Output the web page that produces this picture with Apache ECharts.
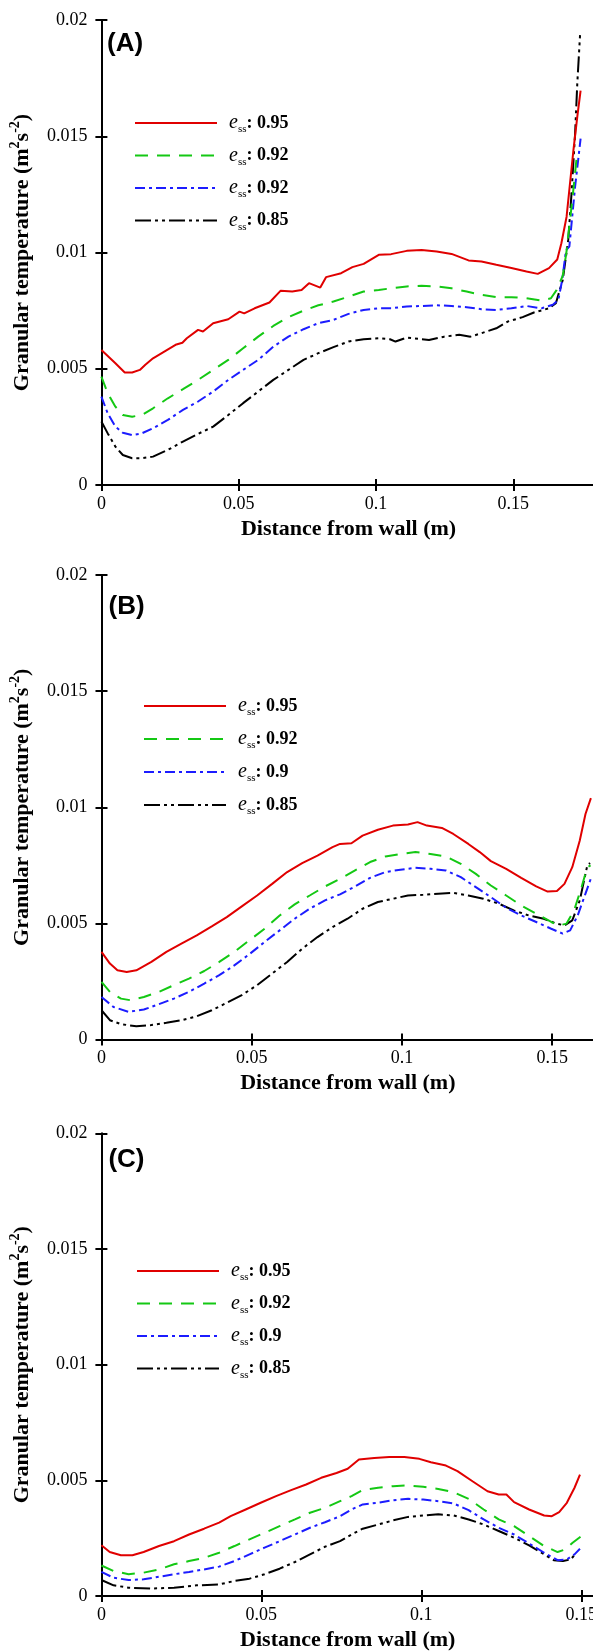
<!DOCTYPE html>
<html>
<head>
<meta charset="utf-8">
<script src="https://cdn.jsdelivr.net/npm/echarts@6/dist/echarts.min.js"></script>
<style>
html,body{margin:0;padding:0;background:#fff;overflow:hidden;}
#main{width:600px;height:1652px;}
</style>
</head>
<body>
<div id="main"></div>
<script>
// 数据：x = 距壁面距离 (m), y = 颗粒温度 (m2/s2)
var panelLabels = ['(A)', '(B)', '(C)'];
var xMax = [0.18, 0.164, 0.154];
var xStep = 0.05;
var yMax = 0.02, yStep = 0.005;
var legendA = ['0.95', '0.92', '0.92', '0.85'];
var legendB = ['0.95', '0.92', '0.9', '0.85'];
var legendC = ['0.95', '0.92', '0.9', '0.85'];

var aRed = [[0,0.00581],[0.0051,0.00524],[0.0085,0.00484],[0.0112,0.00484],[0.014,0.00495],[0.016,0.00517],[0.0188,0.00545],[0.0229,0.00574],[0.027,0.00603],[0.0295,0.00612],[0.0311,0.00631],[0.0352,0.00667],[0.037,0.0066],[0.0407,0.00696],[0.0462,0.00713],[0.0503,0.00746],[0.052,0.00738],[0.0558,0.0076],[0.0612,0.00785],[0.0653,0.00836],[0.0695,0.00832],[0.0729,0.00839],[0.0756,0.00868],[0.0797,0.00849],[0.0818,0.00894],[0.0873,0.00911],[0.0914,0.00937],[0.0955,0.00951],[0.101,0.0099],[0.1055,0.00993],[0.1112,0.01007],[0.1166,0.01011],[0.1221,0.01004],[0.1275,0.00994],[0.1337,0.00966],[0.1384,0.00961],[0.1438,0.00947],[0.1493,0.00933],[0.1548,0.00918],[0.1589,0.00908],[0.163,0.00933],[0.166,0.0097],[0.1675,0.0104],[0.1694,0.01154],[0.1719,0.01441],[0.1733,0.01584],[0.1745,0.01696]];
var aGreen = [[0,0.00466],[0.0023,0.00395],[0.0051,0.00337],[0.0078,0.00301],[0.0112,0.00294],[0.0147,0.00301],[0.0188,0.0033],[0.0242,0.00373],[0.0297,0.00412],[0.0352,0.00452],[0.0407,0.00495],[0.0462,0.00538],[0.0516,0.00588],[0.0571,0.00638],[0.0626,0.00684],[0.0681,0.00722],[0.0736,0.0075],[0.079,0.00773],[0.0845,0.00789],[0.09,0.0081],[0.0955,0.00832],[0.101,0.00839],[0.1055,0.00846],[0.1112,0.00854],[0.1166,0.00857],[0.1221,0.00854],[0.1275,0.00846],[0.133,0.00832],[0.1384,0.00818],[0.1438,0.00808],[0.1493,0.00808],[0.1548,0.00803],[0.1603,0.00793],[0.1637,0.00803],[0.1658,0.00839],[0.168,0.009],[0.1693,0.00997],[0.1716,0.0124],[0.1731,0.01412],[0.174,0.0143]];
var aBlue = [[0,0.0038],[0.0023,0.00308],[0.0051,0.00251],[0.0078,0.00225],[0.0112,0.00215],[0.0147,0.00222],[0.0188,0.00244],[0.0242,0.0028],[0.0297,0.00323],[0.0352,0.00359],[0.0407,0.00402],[0.0462,0.00452],[0.0516,0.00495],[0.0571,0.00538],[0.0626,0.00595],[0.0681,0.00638],[0.0736,0.0067],[0.079,0.00696],[0.0845,0.0071],[0.09,0.00736],[0.0955,0.00753],[0.101,0.0076],[0.1055,0.0076],[0.1112,0.00768],[0.1166,0.0077],[0.1221,0.00773],[0.1275,0.0077],[0.133,0.00765],[0.1384,0.00756],[0.1438,0.00753],[0.1493,0.0076],[0.1548,0.0077],[0.1603,0.0076],[0.1644,0.00775],[0.1664,0.00796],[0.1678,0.00882],[0.1692,0.0101],[0.1704,0.01025],[0.1725,0.01283],[0.1745,0.0149]];
var aBlack = [[0,0.00273],[0.0023,0.00222],[0.0051,0.00165],[0.0078,0.00129],[0.0112,0.00115],[0.0147,0.00115],[0.0188,0.00122],[0.0242,0.00151],[0.0297,0.00187],[0.0352,0.0022],[0.0407,0.00251],[0.0462,0.00301],[0.0516,0.00352],[0.0571,0.00402],[0.0626,0.00452],[0.0681,0.00495],[0.0736,0.00538],[0.079,0.00567],[0.0845,0.00593],[0.09,0.00617],[0.0955,0.00627],[0.101,0.00631],[0.1051,0.00627],[0.1071,0.00617],[0.1112,0.00634],[0.1166,0.00627],[0.1193,0.00624],[0.1248,0.00638],[0.1303,0.00646],[0.1344,0.00638],[0.1384,0.00653],[0.1438,0.00674],[0.148,0.00703],[0.1534,0.00722],[0.1575,0.00742],[0.163,0.0076],[0.1655,0.00782],[0.168,0.00882],[0.17,0.01054],[0.1712,0.01254],[0.1725,0.01512],[0.1733,0.01728],[0.1743,0.01935]];

var bRed = [[0,0.00377],[0.0028,0.00327],[0.0053,0.00298],[0.0084,0.00291],[0.0116,0.00298],[0.0166,0.00334],[0.0216,0.00377],[0.0266,0.00413],[0.0317,0.00448],[0.0367,0.00487],[0.0417,0.00527],[0.0467,0.00573],[0.0518,0.0062],[0.0568,0.0067],[0.0618,0.00721],[0.0668,0.00759],[0.0719,0.00792],[0.0769,0.00828],[0.0794,0.00842],[0.0832,0.00845],[0.0869,0.00878],[0.092,0.00903],[0.097,0.00921],[0.102,0.00926],[0.1052,0.00936],[0.1083,0.00921],[0.1133,0.00911],[0.1171,0.00885],[0.1221,0.00842],[0.1259,0.00807],[0.1296,0.00768],[0.1347,0.00735],[0.1397,0.00696],[0.1447,0.00659],[0.1485,0.00637],[0.1516,0.00639],[0.1541,0.0067],[0.1567,0.00742],[0.1592,0.00857],[0.1611,0.00971],[0.1629,0.01039]];
var bGreen = [[0,0.00248],[0.0028,0.00205],[0.0065,0.00176],[0.0097,0.00169],[0.0141,0.00183],[0.0191,0.00205],[0.0241,0.00234],[0.0291,0.00262],[0.0342,0.00295],[0.0392,0.00334],[0.0442,0.00377],[0.0492,0.00427],[0.0543,0.00477],[0.0593,0.00534],[0.0643,0.00582],[0.0693,0.0062],[0.0744,0.00659],[0.0794,0.00692],[0.0844,0.00728],[0.0894,0.00764],[0.0945,0.00788],[0.0995,0.00799],[0.1045,0.00807],[0.1095,0.00799],[0.1146,0.00788],[0.1196,0.00756],[0.1246,0.00713],[0.1296,0.00663],[0.1347,0.0062],[0.1397,0.00577],[0.1447,0.00542],[0.1497,0.00506],[0.1523,0.00491],[0.1548,0.00499],[0.1573,0.00556],[0.1598,0.00656],[0.1617,0.00742],[0.1628,0.0075]];
var bBlue = [[0,0.00183],[0.004,0.0014],[0.009,0.00119],[0.0141,0.00129],[0.0191,0.00152],[0.0241,0.00176],[0.0291,0.00205],[0.0342,0.00241],[0.0392,0.00277],[0.0442,0.00319],[0.0492,0.00367],[0.0543,0.0042],[0.0593,0.0047],[0.0643,0.0052],[0.0693,0.00563],[0.0744,0.00599],[0.0794,0.00625],[0.0844,0.00659],[0.0894,0.00696],[0.0945,0.00721],[0.0995,0.00731],[0.1045,0.00739],[0.1095,0.00735],[0.1146,0.00728],[0.1196,0.00699],[0.1246,0.00656],[0.1296,0.00613],[0.1347,0.00567],[0.1397,0.00534],[0.1447,0.00506],[0.1497,0.00477],[0.1535,0.00456],[0.156,0.0047],[0.1585,0.00534],[0.1611,0.00628],[0.1628,0.0069]];
var bBlack = [[0,0.00126],[0.0028,0.00083],[0.0065,0.00066],[0.0116,0.00057],[0.0166,0.00062],[0.0216,0.00072],[0.0266,0.00083],[0.0317,0.001],[0.0367,0.00126],[0.0417,0.00158],[0.0467,0.00191],[0.0518,0.00234],[0.0568,0.00284],[0.0618,0.00334],[0.0668,0.00391],[0.0719,0.00441],[0.0769,0.00484],[0.0819,0.0052],[0.0869,0.00563],[0.092,0.00592],[0.097,0.00606],[0.102,0.0062],[0.107,0.00623],[0.1121,0.00628],[0.1171,0.00631],[0.1221,0.0062],[0.1271,0.00606],[0.1322,0.00585],[0.1372,0.00556],[0.1422,0.00534],[0.1472,0.0052],[0.151,0.00501],[0.1541,0.00491],[0.1567,0.00513],[0.1592,0.00599],[0.1617,0.00749],[0.1626,0.0076]];

var cRed = [[0,0.00219],[0.0026,0.0019],[0.0061,0.00176],[0.0097,0.00176],[0.0132,0.0019],[0.018,0.00216],[0.0227,0.00237],[0.0274,0.00266],[0.0321,0.00291],[0.0368,0.00317],[0.0404,0.00345],[0.0451,0.00374],[0.0498,0.00403],[0.0546,0.00432],[0.0593,0.00458],[0.064,0.00482],[0.0687,0.00511],[0.0735,0.00532],[0.077,0.0055],[0.0805,0.0059],[0.0853,0.00597],[0.09,0.00601],[0.0947,0.00601],[0.0994,0.00593],[0.103,0.00578],[0.1077,0.00564],[0.1113,0.0054],[0.116,0.00496],[0.1207,0.00453],[0.1242,0.00439],[0.1266,0.00439],[0.129,0.00406],[0.1337,0.00374],[0.1384,0.00348],[0.1408,0.00345],[0.1431,0.00363],[0.1455,0.00403],[0.1479,0.00468],[0.1496,0.00525]];
var cGreen = [[0,0.00132],[0.0038,0.00108],[0.0085,0.00094],[0.0132,0.00101],[0.018,0.00115],[0.0227,0.00137],[0.0274,0.00151],[0.0321,0.00165],[0.0368,0.00187],[0.0416,0.00216],[0.0463,0.00245],[0.051,0.00273],[0.0557,0.00302],[0.0605,0.00331],[0.0652,0.0036],[0.0699,0.00381],[0.0746,0.0041],[0.0782,0.00432],[0.0817,0.00458],[0.0865,0.00468],[0.0912,0.00475],[0.0959,0.00478],[0.1006,0.00472],[0.1053,0.00463],[0.1101,0.00449],[0.1148,0.0042],[0.1195,0.00374],[0.1242,0.00331],[0.129,0.00302],[0.1337,0.00259],[0.1384,0.00216],[0.1426,0.0019],[0.1449,0.00201],[0.1473,0.0023],[0.15,0.00259]];
var cBlue = [[0,0.00104],[0.0038,0.00079],[0.0085,0.00069],[0.0132,0.00072],[0.018,0.00083],[0.0227,0.00094],[0.0274,0.00104],[0.0321,0.00115],[0.0368,0.00127],[0.0416,0.00151],[0.0463,0.0018],[0.051,0.00209],[0.0557,0.00237],[0.0605,0.00266],[0.0652,0.00295],[0.0699,0.00319],[0.0746,0.00345],[0.0782,0.00374],[0.0817,0.00396],[0.0865,0.00403],[0.0912,0.00414],[0.0959,0.0042],[0.1006,0.00417],[0.1053,0.0041],[0.1101,0.004],[0.1148,0.00371],[0.1195,0.00331],[0.1242,0.00295],[0.129,0.00266],[0.1337,0.00227],[0.1384,0.00187],[0.1426,0.00155],[0.1455,0.00158],[0.1479,0.0018],[0.1496,0.00204]];
var cBlack = [[0,0.00069],[0.0038,0.00046],[0.0085,0.00036],[0.0156,0.00032],[0.0227,0.00036],[0.0298,0.00046],[0.0368,0.0005],[0.0416,0.00065],[0.0463,0.00075],[0.051,0.00094],[0.0557,0.00118],[0.0605,0.00147],[0.0652,0.0018],[0.0699,0.00213],[0.0746,0.00237],[0.0782,0.00266],[0.0817,0.00291],[0.0865,0.00309],[0.0912,0.00327],[0.0959,0.00342],[0.1006,0.00348],[0.1053,0.00353],[0.1101,0.00348],[0.1148,0.00331],[0.1195,0.00309],[0.1242,0.00281],[0.129,0.00252],[0.1337,0.00219],[0.1384,0.0018],[0.1414,0.00155],[0.1443,0.00151],[0.1467,0.00158],[0.1485,0.00187]];

var panelData = [[aRed, aGreen, aBlue, aBlack], [bRed, bGreen, bBlue, bBlack], [cRed, cGreen, cBlue, cBlack]];
var panelLegend = [legendA, legendB, legendC];

// 样式
var colors = ['#e00000', '#14c814', '#1c1cff', '#000000'];
var dashes = ['solid', [13, 9], [10, 4, 3, 4], [16, 4, 3, 4, 3, 4]];
var serif = 'Liberation Serif';
var grids = [
    {left: 100, top: 20, width: 495.7, height: 465},
    {left: 101.5, top: 575, width: 492.7, height: 464.5},
    {left: 101.4, top: 1133.4, width: 493.1, height: 463.3}
];
var legendPos = [{left: 134, top: 111, gap: 8.5}, {left: 143, top: 694, gap: 9}, {left: 136, top: 1259, gap: 8.5}];
var titleTop = [31, 594, 1147];

var labelMap = {};
var option = {
    animation: false,
    backgroundColor: '#fff',
    title: [], grid: [], xAxis: [], yAxis: [], legend: [], series: []
};

var axisLine = {show: true, lineStyle: {color: '#000', width: 2}};
var axisTick = {show: true, inside: true, length: 6, lineStyle: {color: '#000', width: 2}};

for (var p = 0; p < 3; p++) {
    option.grid.push(grids[p]);
    option.title.push({
        text: panelLabels[p], left: grids[p].left + 7, top: titleTop[p], padding: 0,
        textStyle: {fontFamily: 'Liberation Sans', fontWeight: 'bold', fontSize: 26, color: '#000'}
    });
    // 下、上 x 轴
    option.xAxis.push({
        type: 'value', gridIndex: p, position: 'bottom', min: 0, max: xMax[p], interval: xStep,
        axisLine: axisLine, axisTick: axisTick, splitLine: {show: false},
        axisLabel: {show: true, margin: 10, showMaxLabel: false, color: '#000', fontFamily: serif, fontSize: 18},
        name: 'Distance from wall (m)', nameLocation: 'middle', nameGap: 33,
        nameTextStyle: {fontFamily: serif, fontWeight: 'bold', fontSize: 22, color: '#000', lineHeight: 22}
    });
    option.xAxis.push({
        type: 'value', gridIndex: p, position: 'top', min: 0, max: xMax[p], interval: xStep,
        axisLine: axisLine, axisTick: axisTick, splitLine: {show: false}, axisLabel: {show: false}
    });
    // 左、右 y 轴
    option.yAxis.push({
        type: 'value', gridIndex: p, position: 'left', min: 0, max: yMax, interval: yStep,
        axisLine: axisLine, axisTick: axisTick, splitLine: {show: false},
        axisLabel: {show: true, margin: 14, color: '#000', fontFamily: serif, fontSize: 18},
        name: 'Granular temperature (m{sup|2}s{sup|-2})', nameLocation: 'middle', nameGap: 57,
        nameTextStyle: {
            fontFamily: serif, fontWeight: 'bold', fontSize: 22, color: '#000', lineHeight: 28,
            rich: {sup: {fontFamily: serif, fontWeight: 'bold', fontSize: 14, lineHeight: 14, verticalAlign: 'top', color: '#000'}}
        }
    });
    option.yAxis.push({
        type: 'value', gridIndex: p, position: 'right', min: 0, max: yMax, interval: yStep,
        axisLine: axisLine, axisTick: axisTick, splitLine: {show: false}, axisLabel: {show: false}
    });

    var names = [];
    for (var s = 0; s < 4; s++) {
        var nm = 'p' + p + 's' + s;
        names.push(nm);
        labelMap[nm] = panelLegend[p][s];
        option.series.push({
            name: nm, type: 'line', xAxisIndex: p * 2, yAxisIndex: p * 2,
            data: panelData[p][s], symbol: 'none', showSymbol: false, z: 10 - s,
            lineStyle: {color: colors[s], width: 2, type: dashes[s]},
            itemStyle: {color: colors[s]}
        });
    }
    option.legend.push({
        data: names, orient: 'vertical', left: legendPos[p].left, top: legendPos[p].top,
        itemWidth: 82, itemHeight: 14, itemGap: legendPos[p].gap, padding: 0, selectedMode: false,
        itemStyle: {opacity: 0},
        formatter: function (name) { return '{e|e}{s|ss}{v|: ' + labelMap[name] + '}'; },
        textStyle: {
            color: '#000', padding: [0, 0, 0, 7], lineHeight: 24,
            rich: {
                e: {fontFamily: serif, fontStyle: 'italic', fontSize: 20, lineHeight: 24, color: '#000'},
                s: {fontFamily: serif, fontSize: 11, lineHeight: 9, verticalAlign: 'bottom', color: '#000'},
                v: {fontFamily: serif, fontWeight: 'bold', fontSize: 18, lineHeight: 24, color: '#000'}
            }
        }
    });
}

var myChart = echarts.init(document.getElementById('main'), null, {renderer: 'canvas'});
myChart.setOption(option);
</script>
</body>
</html>
